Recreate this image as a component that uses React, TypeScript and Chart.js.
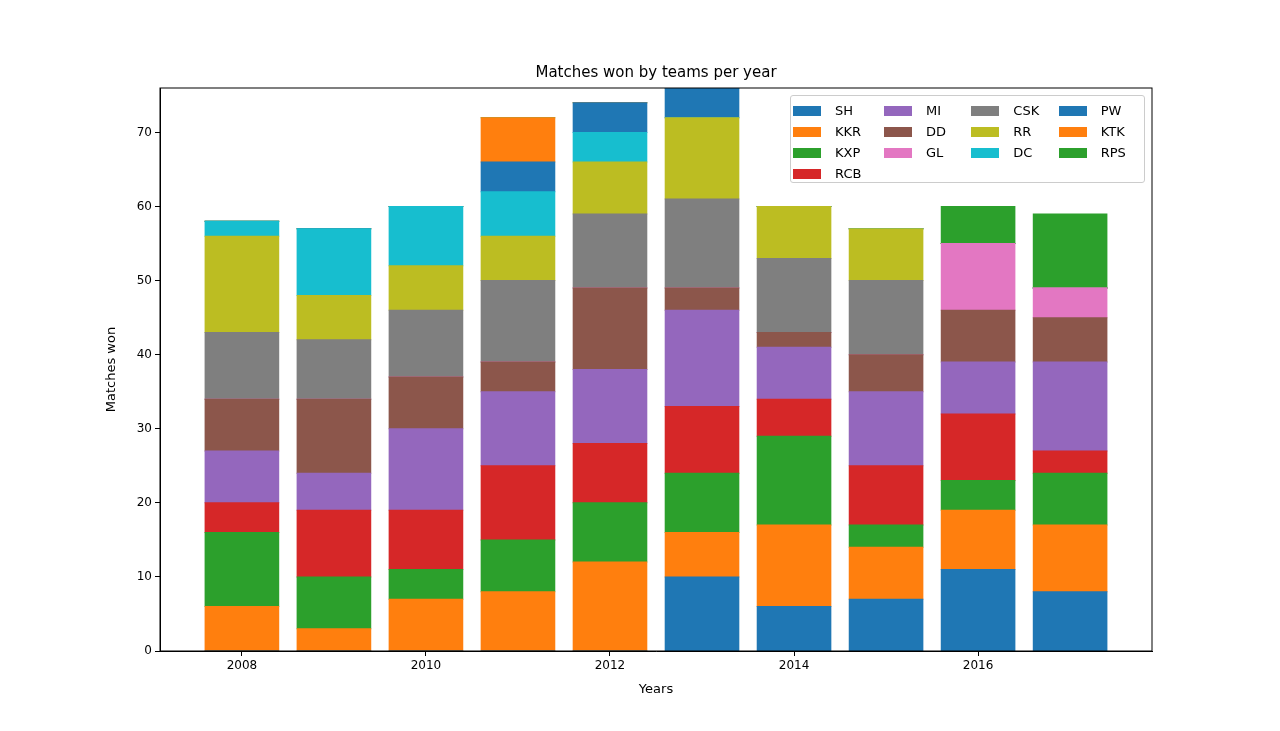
import { useEffect, useRef } from "react";
import Chart from "chart.js/auto";

const years = [2008, 2009, 2010, 2011, 2012, 2013, 2014, 2015, 2016, 2017];
const xTicks = [2008, 2010, 2012, 2014, 2016];
const yTicks = [0, 10, 20, 30, 40, 50, 60, 70];

// wins per team, one value per year
const SH = [0, 0, 0, 0, 0, 10, 6, 7, 11, 8];
const KKR = [6, 3, 7, 8, 12, 6, 11, 7, 8, 9];
const KXP = [10, 7, 4, 7, 8, 8, 12, 3, 4, 7];
const RCB = [4, 9, 8, 10, 8, 9, 5, 8, 9, 3];
const MI = [7, 5, 11, 10, 10, 13, 7, 10, 7, 12];
const DD = [7, 10, 7, 4, 11, 3, 2, 5, 7, 6];
const GL = [0, 0, 0, 0, 0, 0, 0, 0, 9, 4];
const CSK = [9, 8, 9, 11, 10, 12, 10, 10, 0, 0];
const RR = [13, 6, 6, 6, 7, 11, 7, 7, 0, 0];
const DC = [2, 9, 8, 6, 4, 0, 0, 0, 0, 0];
const PW = [0, 0, 0, 4, 4, 4, 0, 0, 0, 0];
const KTK = [0, 0, 0, 6, 0, 0, 0, 0, 0, 0];
const RPS = [0, 0, 0, 0, 0, 0, 0, 0, 5, 10];

const teams: [string, number[], string][] = [
  ["SH", SH, "#1f77b4"],
  ["KKR", KKR, "#ff7f0e"],
  ["KXP", KXP, "#2ca02c"],
  ["RCB", RCB, "#d62728"],
  ["MI", MI, "#9467bd"],
  ["DD", DD, "#8c564b"],
  ["GL", GL, "#e377c2"],
  ["CSK", CSK, "#7f7f7f"],
  ["RR", RR, "#bcbd22"],
  ["DC", DC, "#17becf"],
  ["PW", PW, "#1f77b4"],
  ["KTK", KTK, "#ff7f0e"],
  ["RPS", RPS, "#2ca02c"],
];

// legend columns as laid out in the reference
const legendColumns = [
  ["SH", "KKR", "KXP", "RCB"],
  ["MI", "DD", "GL"],
  ["CSK", "RR", "DC"],
  ["PW", "KTK", "RPS"],
];

const FONT = "'DejaVu Sans', sans-serif";

export default function App() {
  const chartRef = useRef<HTMLCanvasElement | null>(null);
  const chartInstance = useRef<Chart | null>(null);

  useEffect(() => {
    if (!chartRef.current) return;
    if (chartInstance.current) chartInstance.current.destroy();

    const titlePlugin = {
      id: "mplTitle",
      afterDraw(chart: any) {
        const c = chart.ctx;
        c.save();
        c.fillStyle = "#000";
        c.font = `15px ${FONT}`;
        c.textAlign = "center";
        c.textBaseline = "bottom";
        c.fillText("Matches won by teams per year", (chart.chartArea.left + chart.chartArea.right) / 2, chart.chartArea.top - 7);
        c.restore();
      },
    };

    chartInstance.current = new Chart(chartRef.current, {
      type: "bar",
      data: {
        datasets: teams.map(([label, values, color]) => ({
          label,
          data: years.map((y, i) => ({ x: y, y: values[i] })),
          backgroundColor: color,
          borderWidth: 0,
          inflateAmount: 0.5,
          barPercentage: 0.8,
          categoryPercentage: 1,
          stack: "s",
        })),
      },
      options: {
        animation: false,
        responsive: false,
        layout: { padding: { left: 100, right: 128, top: 88, bottom: 30 } },
        plugins: { legend: { display: false }, tooltip: { enabled: false } },
        scales: {
          x: {
            type: "linear",
            stacked: true,
            offset: false,
            min: 2007.11,
            max: 2017.89,
            afterBuildTicks: (s: any) => {
              s.ticks = xTicks.map((v) => ({ value: v }));
            },
            afterFit: (s: any) => {
              s.height = 50;
            },
            ticks: { color: "#000", font: { family: FONT, size: 12 }, maxRotation: 0, callback: (v: any) => String(v) },
            grid: { offset: false, drawOnChartArea: false, color: "#000", tickLength: 5, tickColor: "#000" },
            border: { color: "#000" },
            title: { display: true, text: "Years", color: "#000", font: { family: FONT, size: 13 }, padding: { top: 2 } },
          },
          y: {
            stacked: true,
            min: 0,
            max: 76,
            afterBuildTicks: (s: any) => {
              s.ticks = yTicks.map((v) => ({ value: v }));
            },
            afterFit: (s: any) => {
              s.width = 60;
            },
            ticks: { color: "#000", font: { family: FONT, size: 12 } },
            grid: { drawOnChartArea: false, color: "#000", tickLength: 5, tickColor: "#000" },
            border: { color: "#000" },
            title: { display: true, text: "Matches won", color: "#000", font: { family: FONT, size: 13 } },
          },
        },
      },
      plugins: [
        titlePlugin,
        {
          id: "frame",
          afterDraw(chart: any) {
            const { left, right, top, bottom } = chart.chartArea;
            const c = chart.ctx;
            c.save();
            c.strokeStyle = "#000";
            c.lineWidth = 1;
            c.strokeRect(left, top, right - left, bottom - top);
            c.restore();
          },
        },
      ],
    } as any);

    return () => {
      if (chartInstance.current) {
        chartInstance.current.destroy();
        chartInstance.current = null;
      }
    };
  }, []);

  const colorOf = (name: string) => teams.find((t) => t[0] === name)![2];

  return (
    <div style={{ position: "absolute", left: 0, top: 0, width: 1280, height: 731, background: "#fff" }}>
      <canvas ref={chartRef} width={1280} height={731} />
      <div
        style={{
          position: "absolute",
          left: 790,
          top: 95,
          width: 353,
          height: 78,
          padding: "4px 0",
          border: "1px solid #ccc",
          borderRadius: 3,
          background: "rgba(255,255,255,0.8)",
          display: "flex",
          fontFamily: FONT,
          fontSize: 13,
        }}
      >
        {legendColumns.map((col, ci) => (
          <div key={ci} style={{ width: ci === 0 ? 100 : 96 }}>
            {col.map((label) => (
              <div key={label} style={{ display: "flex", alignItems: "center", height: 21, paddingLeft: 2 }}>
                <span style={{ width: 28, height: 10, flexShrink: 0, background: colorOf(label), display: "inline-block", marginRight: 14 }} />
                {label}
              </div>
            ))}
          </div>
        ))}
      </div>
    </div>
  );
}
